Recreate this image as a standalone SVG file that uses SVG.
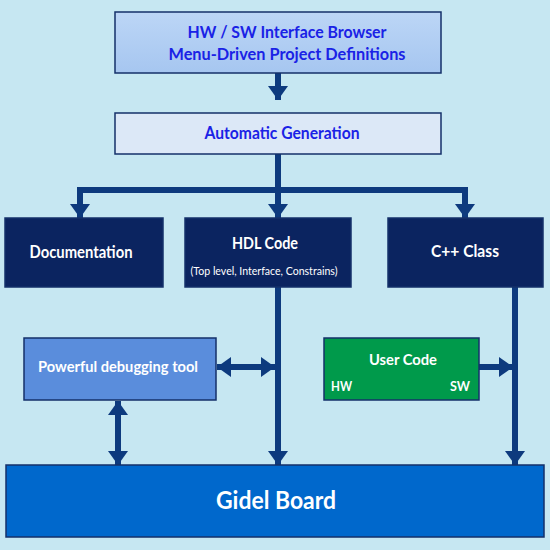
<svg xmlns="http://www.w3.org/2000/svg" width="550" height="550" viewBox="0 0 550 550">
<defs>
<linearGradient id="gTop" x1="0" y1="0" x2="0" y2="1">
<stop offset="0" stop-color="#bcd6f6"/><stop offset="1" stop-color="#a6c6f0"/>
</linearGradient>
<marker id="ah" viewBox="0 0 14 20" refX="14" refY="10" markerWidth="14" markerHeight="20" markerUnits="userSpaceOnUse" orient="auto-start-reverse">
<path d="M0,0 L14,10 L0,20 z" fill="#0d3a7e"/>
</marker>
<style>
.t{font-family:Lato,"Noto Sans","DejaVu Sans",sans-serif;font-weight:bold;text-anchor:middle}
.w{fill:#ffffff}
.b{fill:#1a22e6}
.c{fill:none;stroke:#0d3a7e;stroke-width:6}
.box{stroke:#15306a;stroke-width:1.5}
</style>
</defs>
<rect width="550" height="550" fill="#c6e7f2"/>
<g id="connectors">
<path class="c" d="M278,73 V100" marker-end="url(#ah)"/>
<path class="c" d="M278,154 V190"/>
<path class="c" d="M80,190 H465"/>
<path class="c" d="M80,187 V218" marker-end="url(#ah)"/>
<path class="c" d="M278,190 V218" marker-end="url(#ah)"/>
<path class="c" d="M465,187 V218" marker-end="url(#ah)"/>
<path class="c" d="M278,287 V465" marker-end="url(#ah)"/>
<path class="c" d="M515,287 V465" marker-end="url(#ah)"/>
<path class="c" d="M217,367 H275" marker-start="url(#ah)" marker-end="url(#ah)"/>
<path class="c" d="M118,401 V465" marker-start="url(#ah)" marker-end="url(#ah)"/>
<path class="c" d="M479,367 H513" marker-end="url(#ah)"/>
</g>
<g id="browser">
<rect class="box" x="115" y="12" width="326" height="61" fill="url(#gTop)"/>
<text class="t b" x="287" y="38" font-size="17" textLength="199" lengthAdjust="spacingAndGlyphs">HW / SW Interface Browser</text>
<text class="t b" x="287" y="60" font-size="17" textLength="237" lengthAdjust="spacingAndGlyphs">Menu-Driven Project Definitions</text>
</g>
<g id="autogen">
<rect class="box" x="115" y="113" width="326" height="41" fill="#dce8f7"/>
<text class="t b" x="282" y="139" font-size="16.5" textLength="155" lengthAdjust="spacingAndGlyphs">Automatic Generation</text>
</g>
<g id="documentation">
<rect class="box" x="5" y="218" width="158" height="69" fill="#0b2460"/>
<text class="t w" x="81" y="258" font-size="16.5" textLength="103" lengthAdjust="spacingAndGlyphs">Documentation</text>
</g>
<g id="hdl">
<rect class="box" x="185" y="218" width="166" height="69" fill="#0b2460"/>
<text class="t w" x="265" y="249" font-size="17.5" textLength="66" lengthAdjust="spacingAndGlyphs">HDL Code</text>
<text class="t w" x="264" y="275" font-size="12" style="font-weight:normal" textLength="147" lengthAdjust="spacingAndGlyphs">(Top level, Interface, Constrains)</text>
</g>
<g id="cpp">
<rect class="box" x="388" y="218" width="155" height="69" fill="#0b2460"/>
<text class="t w" x="465" y="257" font-size="17.5" textLength="68" lengthAdjust="spacingAndGlyphs">C++ Class</text>
</g>
<g id="debug">
<rect class="box" x="24" y="338" width="192" height="62" fill="#5a8ddc"/>
<text class="t w" x="118" y="372" font-size="15.5" textLength="160" lengthAdjust="spacingAndGlyphs">Powerful debugging tool</text>
</g>
<g id="usercode">
<rect class="box" x="324" y="338" width="155" height="62" fill="#009a4b" stroke="#0a6a30"/>
<text class="t w" x="403" y="365" font-size="16" textLength="68" lengthAdjust="spacingAndGlyphs">User Code</text>
<text class="t w" x="331" y="391" font-size="14" style="text-anchor:start" textLength="21" lengthAdjust="spacingAndGlyphs">HW</text>
<text class="t w" x="470" y="391" font-size="14" style="text-anchor:end" textLength="20" lengthAdjust="spacingAndGlyphs">SW</text>
</g>
<g id="gidel">
<rect class="box" x="6" y="465" width="538" height="72" fill="#0068cc"/>
<text class="t w" x="276" y="509" font-size="25" textLength="120" lengthAdjust="spacingAndGlyphs">Gidel Board</text>
</g>
</svg>
